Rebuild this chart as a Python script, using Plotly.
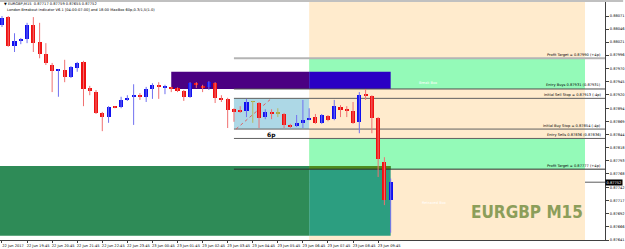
import plotly.graph_objects as go
import pandas as pd

# ---------------- data ----------------
bar_times = pd.date_range("2017-06-22 18:45", periods=63, freq="15min")

opens = [0.88054, 0.88069, 0.88013, 0.88024, 0.88027, 0.88054, 0.88021, 0.87998, 0.87977, 0.87966,
         0.87967, 0.87954, 0.87971, 0.87983, 0.87933, 0.87925, 0.87885, 0.87877, 0.87897, 0.87896,
         0.87910, 0.87916, 0.87918, 0.87916, 0.87931, 0.87939, 0.87934, 0.87934, 0.87933, 0.87927,
         0.87916, 0.87942, 0.87937, 0.87935, 0.87942, 0.87913, 0.87912, 0.87892, 0.87890, 0.87889,
         0.87906, 0.87904, 0.87877, 0.87887, 0.87883, 0.87883, 0.87862, 0.87860, 0.87866, 0.87873,
         0.87877, 0.87866, 0.87879, 0.87873, 0.87896, 0.87892, 0.87889, 0.87868, 0.87921, 0.87917,
         0.87875, 0.87791, 0.87717]
highs = [0.88071, 0.88071, 0.88038, 0.88029, 0.88058, 0.88069, 0.88058, 0.88019, 0.87981, 0.87969,
         0.87987, 0.87975, 0.87983, 0.87985, 0.87937, 0.87929, 0.87887, 0.87898, 0.87898, 0.87916,
         0.87919, 0.87940, 0.87923, 0.87935, 0.87942, 0.87944, 0.87939, 0.87935, 0.87934, 0.87929,
         0.87944, 0.87944, 0.87939, 0.87946, 0.87944, 0.87919, 0.87914, 0.87894, 0.87898, 0.87912,
         0.87908, 0.87906, 0.87892, 0.87892, 0.87894, 0.87885, 0.87864, 0.87881, 0.87910, 0.87894,
         0.87883, 0.87883, 0.87881, 0.87910, 0.87900, 0.87898, 0.87906, 0.87925, 0.87931, 0.87919,
         0.87877, 0.87800, 0.87759]
lows = [0.88050, 0.88012, 0.88002, 0.88017, 0.88019, 0.88002, 0.87990, 0.87977, 0.87925, 0.87916,
        0.87944, 0.87952, 0.87964, 0.87898, 0.87919, 0.87883, 0.87850, 0.87866, 0.87894, 0.87894,
        0.87908, 0.87862, 0.87910, 0.87906, 0.87912, 0.87912, 0.87921, 0.87925, 0.87925, 0.87908,
        0.87914, 0.87933, 0.87925, 0.87929, 0.87904, 0.87906, 0.87856, 0.87868, 0.87885, 0.87877,
        0.87866, 0.87856, 0.87873, 0.87873, 0.87877, 0.87856, 0.87856, 0.87858, 0.87856, 0.87871,
        0.87864, 0.87864, 0.87869, 0.87871, 0.87877, 0.87877, 0.87864, 0.87846, 0.87910, 0.87846,
        0.87762, 0.87708, 0.87655]
closes = [0.88067, 0.88013, 0.88023, 0.88026, 0.88054, 0.88019, 0.87998, 0.87981, 0.87965, 0.87968,
          0.87954, 0.87973, 0.87981, 0.87931, 0.87927, 0.87885, 0.87877, 0.87896, 0.87895, 0.87910,
          0.87912, 0.87919, 0.87916, 0.87931, 0.87939, 0.87935, 0.87936, 0.87932, 0.87927, 0.87916,
          0.87942, 0.87939, 0.87934, 0.87944, 0.87914, 0.87911, 0.87891, 0.87887, 0.87888, 0.87906,
          0.87906, 0.87875, 0.87887, 0.87883, 0.87883, 0.87862, 0.87858, 0.87866, 0.87871, 0.87875,
          0.87866, 0.87881, 0.87871, 0.87898, 0.87891, 0.87890, 0.87866, 0.87919, 0.87917, 0.87875,
          0.87796, 0.87718, 0.87752]

x_tick_labels = ["22 Jun 2017", "22 Jun 19:45", "22 Jun 20:45", "22 Jun 21:45", "22 Jun 22:45",
                 "22 Jun 23:45", "23 Jun 00:45", "23 Jun 01:45", "23 Jun 02:45", "23 Jun 03:45",
                 "23 Jun 04:45", "23 Jun 05:45", "23 Jun 06:45", "23 Jun 07:45", "23 Jun 08:45",
                 "23 Jun 09:45"]
y_tick_values = [0.88071, 0.88046, 0.88021, 0.87996, 0.87970, 0.87945, 0.87920, 0.87894, 0.87869,
                 0.87844, 0.87818, 0.87793, 0.87768, 0.87742, 0.87717, 0.87692, 0.87666, 0.87641]

level_names = ["Profit Target = 0.87990 (+4p)", "Entry Buys 0.87931 (0.87931)",
               "Initial Sell Stop = 0.87913 (-4p)", "Initial Buy Stop = 0.87854 (-4p)",
               "Entry Sells 0.87836 (0.87836)", "Profit Target = 0.87777 (+4p)"]
level_prices = [0.87990, 0.87931, 0.87913, 0.87854, 0.87836, 0.87777]
level_colors = ["#B4B4B4", "#505050", "#606060", "#606060", "#606060", "#303030"]
level_widths = [2, 1, 1, 1, 1, 1]

current_price = 0.87752
maxbox_top = 0.87964
big_box_top, big_box_bottom = 0.87783, 0.87649

t_maxbox = "2017-06-23 01:30"
t_box_start = "2017-06-23 04:00"
t_box_end = "2017-06-23 07:00"
t_now = "2017-06-23 10:15"
t_session_end = "2017-06-23 18:00"
x_range = ["2017-06-22 18:40:14", "2017-06-23 18:47:51"]
y_range = [0.87641, 0.88098]

# ---------------- figure ----------------
fig = go.Figure()

body_base, body_h, body_col = [], [], []
wick = {"up": ([], []), "dn": ([], []), "eq": ([], [])}
for t, o, h, l, c in zip(bar_times, opens, highs, lows, closes):
    kind = "up" if c > o else ("dn" if c < o else "eq")
    body_base.append(min(o, c))
    body_h.append(max(abs(c - o), 0.000019))
    body_col.append({"up": "#1010F0", "dn": "#F01010", "eq": "#A8A840"}[kind])
    xs, ys = wick[kind]
    xs += [t, t, None]
    ys += [h, l, None]

wick_cols = {"up": "#7070F0", "dn": "#F07070", "eq": "#B8B860"}
for k, (xs, ys) in wick.items():
    fig.add_trace(go.Scatter(x=xs, y=ys, mode="lines", line=dict(color=wick_cols[k], width=1),
                             hoverinfo="skip", showlegend=False))

fig.add_trace(go.Bar(x=bar_times, y=body_h, base=body_base, width=0.65 * 15 * 60 * 1000,
                     marker=dict(color=body_col, line=dict(width=0)), showlegend=False))

shapes = []


def rect(x0, x1, y0, y1, color, xref="x", yref="y"):
    shapes.append(dict(type="rect", xref=xref, yref=yref, x0=x0, x1=x1, y0=y0, y1=y1,
                       fillcolor=color, line=dict(width=0), layer="below"))


# session background
rect(t_box_end, t_session_end, y_range[0], y_range[1], "#FFEBCD")
# upper/lower target zones
rect(t_box_end, t_session_end, level_prices[1], level_prices[0], "#94FAB8")
rect(t_box_end, t_session_end, level_prices[5], level_prices[4], "#94FAB8")
# big green box
rect(x_range[0], t_box_end, big_box_bottom, big_box_top, "#2E8B57")
rect(t_box_end, t_now, big_box_bottom, big_box_top, "#2C9E80")
rect(t_box_end, t_now, level_prices[5], big_box_top, "#4E8C20")
# max box
rect(t_maxbox, t_box_end, level_prices[1], maxbox_top, "#4B0082")
rect(t_box_end, t_now, level_prices[1], maxbox_top, "#2A00C4")
# breakout box
rect(t_box_start, t_box_end, level_prices[3], level_prices[2], "#ADD8E6")

# level lines
for p, c, w in zip(level_prices, level_colors, level_widths):
    shapes.append(dict(type="line", xref="x", yref="y", x0=t_box_start, x1=x_range[1], y0=p, y1=p,
                       line=dict(color=c, width=w), layer="below"))
# diagonal in the box
shapes.append(dict(type="line", xref="x", yref="y", x0="2017-06-23 04:05", x1="2017-06-23 05:30",
                   y0=level_prices[3], y1=level_prices[2],
                   line=dict(color="#DC6060", width=1, dash="dot"), layer="below"))
# current price line
shapes.append(dict(type="line", xref="paper", yref="y", x0=0, x1=1, y0=current_price, y1=current_price,
                   line=dict(color="#5A5A5A", width=1), layer="below"))
# top frame band
shapes.append(dict(type="rect", xref="paper", yref="paper", x0=0, x1=1.03, y0=1.0, y1=1.01,
                   fillcolor="#C0C0C0", line=dict(width=0)))

annotations = []
small = dict(family="DejaVu Sans", size=3.6, color="black")
for name, p in zip(level_names, level_prices):
    annotations.append(dict(xref="paper", yref="y", x=0.9967, y=p, text=name, showarrow=False,
                            xanchor="right", yanchor="bottom", font=small, yshift=-0.5))

annotations += [
    dict(xref="paper", yref="paper", x=0.003, y=0.992, xanchor="left", yanchor="middle",
         text="▼ EURGBP,M15  0.87717 0.87759 0.87655 0.87752", showarrow=False, font=small),
    dict(xref="paper", yref="paper", x=0.008, y=0.966, xanchor="left", yanchor="middle",
         text="London Breakout Indicator V6.1 [04:00-07:00] and 18:00 MaxBox 60p,0.3/1,5(1.0)",
         showarrow=False, font=small),
    dict(xref="x", yref="y", x="2017-06-23 05:30", y=0.87843, text="<b>6p</b>", showarrow=False,
         font=dict(family="DejaVu Sans", size=6, color="black")),
    dict(xref="x", yref="y", x="2017-06-23 11:45", y=0.87942, text="Break Box", showarrow=False,
         font=dict(family="DejaVu Sans", size=3.6, color="white")),
    dict(xref="x", yref="y", x="2017-06-23 12:00", y=0.87712, text="Retraced Box", showarrow=False,
         font=dict(family="DejaVu Sans", size=3.6, color="white")),
    dict(xref="paper", yref="paper", x=0.967, y=0.118, xanchor="right", yanchor="middle",
         text="<b>EURGBP M15</b>", showarrow=False,
         font=dict(family="DejaVu Sans Condensed, Liberation Sans Narrow", size=17, color="#8C9E5A")),
    dict(xref="paper", yref="y", x=1.0, y=current_price, xanchor="left", yanchor="middle",
         text="0.87752", showarrow=False, bgcolor="black", borderpad=0.5,
         font=dict(family="DejaVu Sans", size=3.6, color="white")),
]

fig.update_layout(
    width=625, height=249,
    margin=dict(l=0, r=17, t=2, b=9),
    paper_bgcolor="white", plot_bgcolor="white",
    shapes=shapes, annotations=annotations,
    bargap=0, showlegend=False,
    xaxis=dict(type="date", range=x_range, showgrid=False, zeroline=False,
               showline=True, linecolor="#404040", linewidth=1,
               ticks="outside", ticklen=2, tickcolor="#404040",
               tickvals=list(bar_times[::4]), ticktext=x_tick_labels,
               tickfont=dict(family="DejaVu Sans", size=3.6, color="black"),
               ticklabelshift=11, ticklabelstandoff=0),
    yaxis=dict(range=y_range, side="right", showgrid=False, zeroline=False,
               showline=True, linecolor="#404040", linewidth=1,
               ticks="outside", ticklen=3, tickcolor="#404040",
               tickvals=y_tick_values, ticktext=[f"{v:.5f}" for v in y_tick_values],
               tickfont=dict(family="DejaVu Sans", size=3.6, color="black")),
)

fig.write_html("out.html", config={"displayModeBar": False})
